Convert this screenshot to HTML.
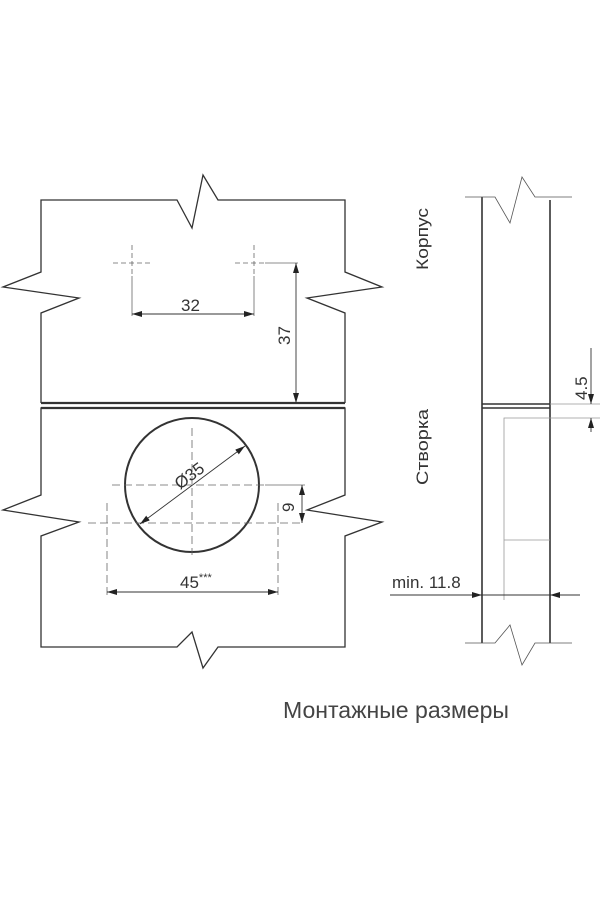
<!DOCTYPE html>
<html><head><meta charset="utf-8"><style>html,body{margin:0;padding:0;background:#fff}svg{display:block}</style></head>
<body>
<svg width="600" height="900" viewBox="0 0 600 900" xmlns="http://www.w3.org/2000/svg" font-family="Liberation Sans, sans-serif">
<defs>
<marker id="a" viewBox="0 0 10 6" refX="10" refY="3" markerWidth="10" markerHeight="6" markerUnits="userSpaceOnUse" orient="auto-start-reverse"><path d="M0,0 L10,3 L0,6 Z" fill="#222"/></marker>
</defs>
<g fill="none" stroke="#333" stroke-width="1.3">
<!-- top panel -->
<path d="M41,403 L41,313 L79,298 L3,287 L41,272 L41,200 L177,200 L192,228 L203,175 L218,200 L345,200 L345,272 L382,287 L307,298 L345,313 L345,403"/>
<line x1="41" y1="403" x2="345" y2="403" stroke-width="2.2"/>
<!-- bottom panel -->
<path d="M41,408 L345,408 L345,495 L307,510 L382,522 L345,536 L345,647 L218,647 L203,668 L192,632 L177,647 L41,647 L41,536 L79,522 L3,510 L41,495 Z"/>
<line x1="41" y1="408" x2="345" y2="408" stroke-width="2.2"/>
<circle cx="192" cy="485" r="67" stroke-width="2"/>
</g>
<g fill="none" stroke="#666" stroke-width="0.8">
<line x1="132" y1="245" x2="132" y2="276" stroke-dasharray="5,3"/>
<line x1="254" y1="245" x2="254" y2="276" stroke-dasharray="5,3"/>
<line x1="132" y1="276" x2="132" y2="316"/>
<line x1="254" y1="276" x2="254" y2="316"/>
<line x1="113" y1="263" x2="150" y2="263" stroke-dasharray="5,3"/>
<line x1="235" y1="263" x2="265" y2="263" stroke-dasharray="5,3"/>
<line x1="265" y1="263" x2="298" y2="263"/>
<line x1="112" y1="485" x2="265" y2="485" stroke-dasharray="8,4"/>
<line x1="192" y1="428" x2="192" y2="555" stroke-dasharray="8,4"/>
<line x1="88" y1="523" x2="300" y2="523" stroke-dasharray="8,4"/>
<line x1="265" y1="485" x2="305" y2="485"/>
<line x1="107" y1="503" x2="107" y2="596" stroke-dasharray="8,4"/>
<line x1="278" y1="503" x2="278" y2="596" stroke-dasharray="8,4"/>
</g>
<g stroke="#333" stroke-width="0.9" fill="none">
<line x1="132" y1="314" x2="254" y2="314" marker-start="url(#a)" marker-end="url(#a)"/>
<line x1="296" y1="263" x2="296" y2="403" marker-start="url(#a)" marker-end="url(#a)"/>
<line x1="140" y1="524" x2="245" y2="446" marker-start="url(#a)" marker-end="url(#a)"/>
<line x1="107" y1="592" x2="278" y2="592" marker-start="url(#a)" marker-end="url(#a)"/>
<line x1="302" y1="485" x2="302" y2="523" marker-start="url(#a)" marker-end="url(#a)"/>
</g>
<g fill="#333" font-size="17">
<text x="181" y="311">32</text>
<text transform="translate(290,345) rotate(-90)">37</text>
<text transform="translate(180,490) rotate(-37)">Ø35</text>
<text x="180" y="588">45<tspan font-size="11" dy="-7">***</tspan></text>
<text transform="translate(294,512) rotate(-90)">9</text>
</g>
<!-- right drawing -->
<g fill="none" stroke="#333" stroke-width="1.6">
<line x1="482" y1="197" x2="482" y2="643"/>
<line x1="550" y1="200" x2="550" y2="643"/>
<line x1="482" y1="404" x2="550" y2="404"/>
<line x1="482" y1="408" x2="550" y2="408"/>
</g>
<g fill="none" stroke="#555" stroke-width="0.8">
<path d="M465,197 L495,197 L510,223 L522,177 L535,197 L572,197"/>
<path d="M465,643 L495,643 L510,625 L522,665 L535,643 L572,643"/>
</g>
<g fill="none" stroke="#999" stroke-width="0.8">
<path d="M504,600 L504,418 L550,418 M504,540 L550,540"/>
<line x1="550" y1="404" x2="600" y2="404"/>
<line x1="550" y1="418" x2="600" y2="418"/>
</g>
<g stroke="#333" stroke-width="0.9" fill="none">
<line x1="591" y1="348" x2="591" y2="404" marker-end="url(#a)"/>
<line x1="591" y1="432" x2="591" y2="418" marker-end="url(#a)"/>
<line x1="390" y1="595" x2="482" y2="595" marker-end="url(#a)"/>
<line x1="482" y1="595" x2="550" y2="595"/>
<line x1="580" y1="595" x2="550" y2="595" marker-end="url(#a)"/>
</g>
<g fill="#333" font-size="17">
<text transform="translate(587,400) rotate(-90)">4.5</text>
<text x="392" y="588">min. 11.8</text>
<text transform="translate(428,270) rotate(-90)" textLength="62" lengthAdjust="spacingAndGlyphs">Корпус</text>
<text transform="translate(428,485) rotate(-90)" textLength="76" lengthAdjust="spacingAndGlyphs">Створка</text>
<text x="283" y="718" font-size="23" fill="#444" textLength="226" lengthAdjust="spacingAndGlyphs">Монтажные размеры</text>
</g>
</svg>
</body></html>
